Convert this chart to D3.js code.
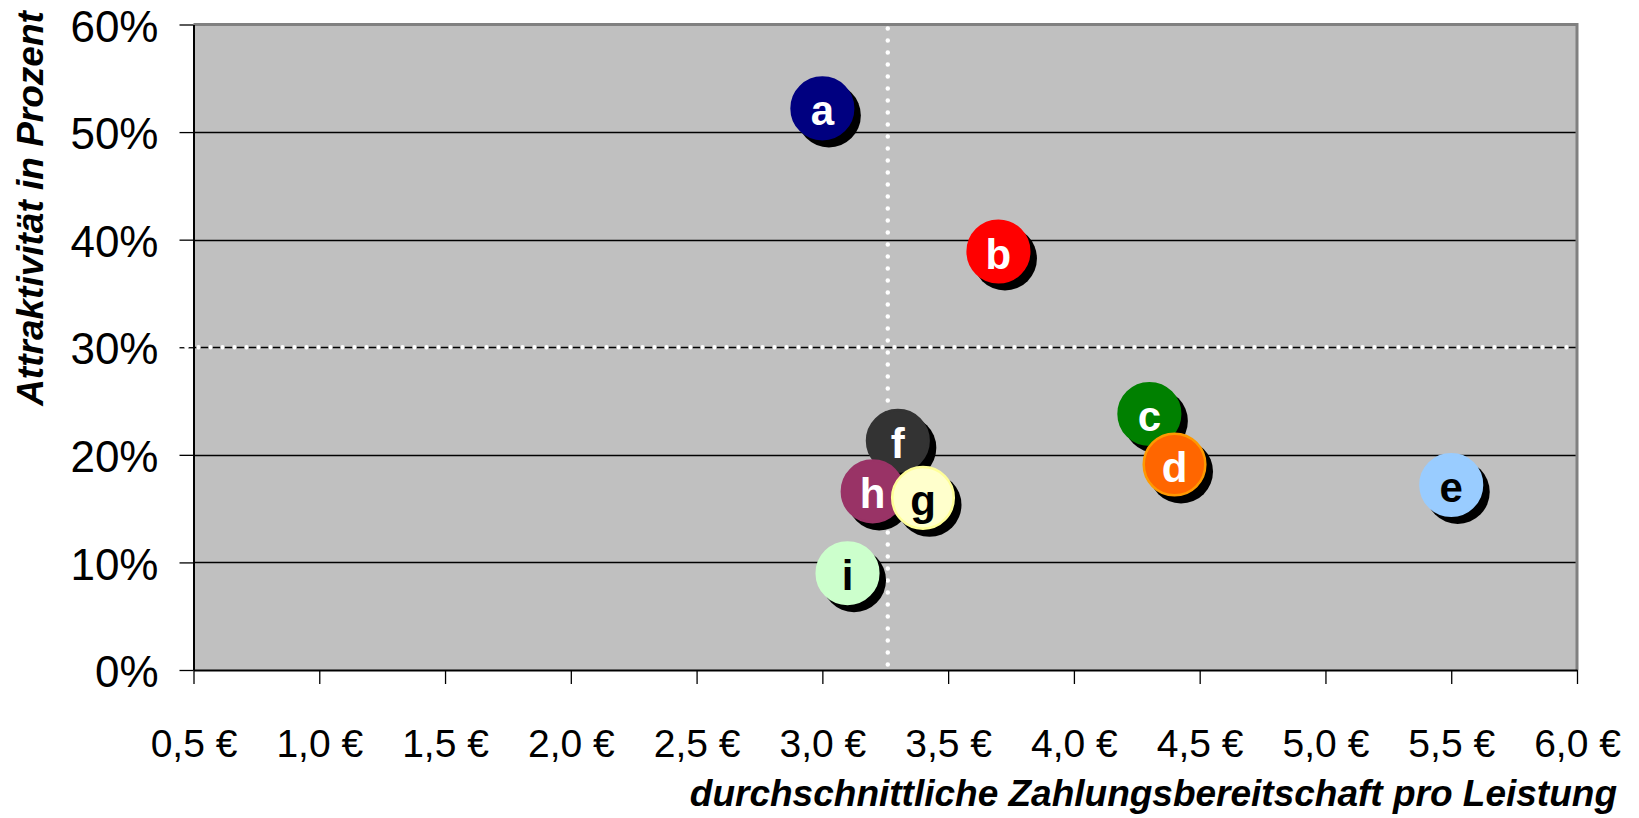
<!DOCTYPE html>
<html>
<head>
<meta charset="utf-8">
<script src="https://cdn.jsdelivr.net/npm/d3@7"></script>
<style>
  html, body { margin: 0; padding: 0; background: #fff; }
  svg { display: block; font-family: "Liberation Sans", Arial, sans-serif; }
</style>
</head>
<body>
<svg id="chart" width="1639" height="818"></svg>
<script>
// ---- data ----
const labels  = ["a", "b", "c", "d", "e", "f", "h", "g", "i"];
const xValues = [3.0, 3.7, 4.3, 4.4, 5.5, 3.3, 3.2, 3.4, 3.1];          // € per Leistung
const yValues = [0.522, 0.389, 0.238, 0.191, 0.172, 0.213, 0.166, 0.160, 0.090]; // Attraktivität
const fills   = ["#000080", "#FF0000", "#008000", "#FF6600", "#99CCFF", "#333333", "#993366", "#FFFFCC", "#CCFFCC"];
const strokes = ["#000080", "#FF0000", "#008000", "#FF9900", "#99CCFF", "#333333", "#993366", "#FFFF99", "#CCFFCC"];
const textColors = ["#fff", "#fff", "#fff", "#fff", "#000", "#fff", "#fff", "#000", "#000"];
const xTicks = [0.5, 1.0, 1.5, 2.0, 2.5, 3.0, 3.5, 4.0, 4.5, 5.0, 5.5, 6.0];
const xTickLabels = ["0,5 €", "1,0 €", "1,5 €", "2,0 €", "2,5 €", "3,0 €", "3,5 €", "4,0 €", "4,5 €", "5,0 €", "5,5 €", "6,0 €"];
const yTicks = [0, 0.1, 0.2, 0.3, 0.4, 0.5, 0.6];
const yTickLabels = ["0%", "10%", "20%", "30%", "40%", "50%", "60%"];
const refX = 3.26;   // vertical reference line
const refY = 0.30;   // horizontal reference line
const xTitle = "durchschnittliche Zahlungsbereitschaft pro Leistung";
const yTitle = "Attraktivität in Prozent";

// ---- layout ----
const L = 193.5, R = 1577, T = 24.5, B = 670;
const svg = d3.select("#chart");
const x = d3.scaleLinear().domain([0.5, 6.0]).range([L, R]);
const y = d3.scaleLinear().domain([0, 0.6]).range([B, T]);
const r = 32;

// plot background
svg.append("rect").attr("x", L).attr("y", T).attr("width", R - L).attr("height", B - T)
  .attr("fill", "#C0C0C0");

// gridlines
svg.append("g").selectAll("line").data(yTicks.filter(d => d > 0 && d < 0.6)).join("line")
  .attr("x1", L).attr("x2", R)
  .attr("y1", d => Math.round(y(d)) + 0.5).attr("y2", d => Math.round(y(d)) + 0.5)
  .attr("stroke", "#000").attr("stroke-width", 1.3);

// top / right border
svg.append("path")
  .attr("d", `M${L},${T}H${R}V${B}`)
  .attr("fill", "none").attr("stroke", "#808080").attr("stroke-width", 3);

// axes
const xAxis = d3.axisBottom(x).tickValues(xTicks).tickSize(14).tickSizeOuter(0)
  .tickFormat((d, i) => xTickLabels[i]);
const gx = svg.append("g").attr("transform", `translate(0,${B})`).call(xAxis);
gx.select(".domain").attr("stroke", "#000").attr("stroke-width", 2);
gx.selectAll(".tick line").attr("stroke", "#000").attr("stroke-width", 1.3);
gx.selectAll(".tick text").attr("y", 86.7).attr("dy", null)
  .attr("font-size", 39).attr("fill", "#000").attr("font-family", "Liberation Sans, Arial, sans-serif");

const yAxis = d3.axisLeft(y).tickValues(yTicks).tickSize(14).tickSizeOuter(0)
  .tickFormat((d, i) => yTickLabels[i]);
const gy = svg.append("g").attr("transform", `translate(${L},0)`).call(yAxis);
gy.select(".domain").attr("stroke", "#000").attr("stroke-width", 2);
gy.selectAll(".tick line").attr("stroke", "#000").attr("stroke-width", 1.3);
gy.selectAll(".tick text").attr("x", -35).attr("dy", "0.38em")
  .attr("font-size", 44).attr("fill", "#000").attr("font-family", "Liberation Sans, Arial, sans-serif");

// reference lines (white dotted)
svg.append("line")
  .attr("x1", L - 7).attr("x2", R).attr("y1", y(refY)).attr("y2", y(refY))
  .attr("stroke", "#fff").attr("stroke-width", 4.5).attr("stroke-linecap", "round")
  .attr("stroke-dasharray", "0,12");
svg.append("line")
  .attr("x1", x(refX)).attr("x2", x(refX)).attr("y1", T + 4).attr("y2", B - 4)
  .attr("stroke", "#fff").attr("stroke-width", 4.5).attr("stroke-linecap", "round")
  .attr("stroke-dasharray", "0,12");

// bubbles with shadows
const data = labels.map((l, i) => ({ l, x: xValues[i], y: yValues[i], fill: fills[i], stroke: strokes[i], tc: textColors[i] }));
const gb = svg.append("g");
data.forEach(d => {
  gb.append("circle").attr("cx", x(d.x) + 6.5).attr("cy", y(d.y) + 7).attr("r", r).attr("fill", "#000");
  gb.append("circle").attr("cx", x(d.x)).attr("cy", y(d.y)).attr("r", r - 1.2)
    .attr("fill", d.fill).attr("stroke", d.stroke).attr("stroke-width", 2.5);
});
svg.append("g").selectAll("text").data(data).join("text")
  .attr("x", d => x(d.x)).attr("y", d => y(d.y) + 17)
  .attr("text-anchor", "middle").attr("font-weight", "bold").attr("font-size", 42)
  .attr("fill", d => d.tc).text(d => d.l);

// titles
svg.append("text").attr("x", 1617).attr("y", 806).attr("text-anchor", "end")
  .attr("font-weight", "bold").attr("font-style", "italic").attr("font-size", 37)
  .text(xTitle);
svg.append("text").attr("transform", "translate(43,208.5) rotate(-90)").attr("text-anchor", "middle")
  .attr("font-weight", "bold").attr("font-style", "italic").attr("font-size", 37)
  .text(yTitle);
</script>
</body>
</html>
